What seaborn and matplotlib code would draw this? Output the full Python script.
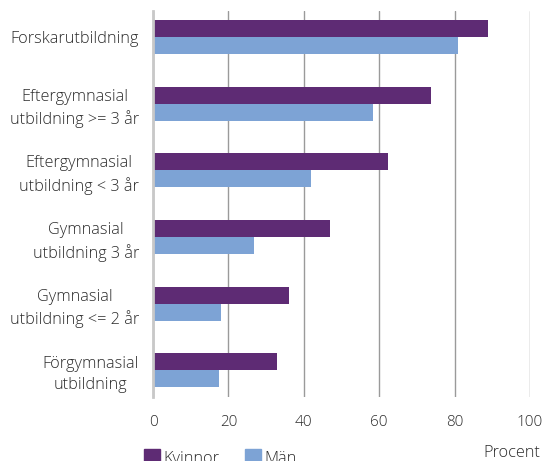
import matplotlib
matplotlib.use("Agg")
import matplotlib.pyplot as plt
import seaborn as sns
import pandas as pd
from matplotlib.lines import Line2D

# Data
categories = ["Forskarutbildning",
              "Eftergymnasial\nutbildning >= 3 år",
              "Eftergymnasial\nutbildning < 3 år",
              "Gymnasial\nutbildning 3 år",
              "Gymnasial\nutbildning <= 2 år",
              "Förgymnasial\nutbildning"]
kvinnor = [88.8, 73.7, 62.3, 47.0, 36.1, 32.8]
man = [81.0, 58.4, 42.0, 26.7, 18.0, 17.5]
series = ["Kvinnor", "Män"]
xticks = [0, 20, 40, 60, 80, 100]

df = pd.DataFrame({
    "Utbildning": categories * 2,
    "Procent": kvinnor + man,
    "Kön": [series[0]] * len(categories) + [series[1]] * len(categories),
})

sns.set_style("white")
plt.rcParams['font.family'] = ['Open Sans', 'DejaVu Sans']
plt.rcParams['font.weight'] = 'light'
text_col = "#2b2b2b"
fs = 11.7
colors = {"Kvinnor": "#5E2B74", "Män": "#7DA3D5"}

fig = plt.figure(figsize=(5.42, 4.61), dpi=100)
ax = fig.add_axes([0.2823, 0.1388, 0.6956, 0.837])

sns.barplot(data=df, y="Utbildning", x="Procent", hue="Kön", orient="h",
            palette=colors, width=0.51, linewidth=0, saturation=1,
            legend=False, ax=ax)

ax.set_xlim(0, 100)
ax.set_ylim(5.4, -0.39)
ax.set_xticks(xticks)
ax.set_xticklabels([str(t) for t in xticks])
ax.set_xlabel("")
ax.set_ylabel("")
for s in ["top", "right", "bottom"]:
    ax.spines[s].set_visible(False)
ax.spines["left"].set_color("#c8c8c8")
ax.spines["left"].set_linewidth(2)
ax.grid(axis="x", color="#9a9a9a", linewidth=1)
ax.set_axisbelow(True)
ax.tick_params(axis="both", length=0, colors=text_col)
ax.tick_params(axis="x", pad=13, labelsize=11)
ax.tick_params(axis="y", pad=10, labelsize=fs)
for lbl in ax.get_yticklabels():
    lbl.set_multialignment("center")
    lbl.set_linespacing(1.4)

fig.text(0.997, 0.018, "Procent", ha="right", va="center", fontsize=fs, color=text_col)

handles = [Line2D([], [], marker="s", linestyle="", markersize=11,
                  color=colors[s]) for s in series]
fig.legend(handles, series, loc="center left", bbox_to_anchor=(0.235, 0.005),
           ncol=2, frameon=False, fontsize=fs, handletextpad=0.1,
           handlelength=1.2, columnspacing=1.5, labelcolor=text_col)

plt.savefig("out.png", dpi=100)
